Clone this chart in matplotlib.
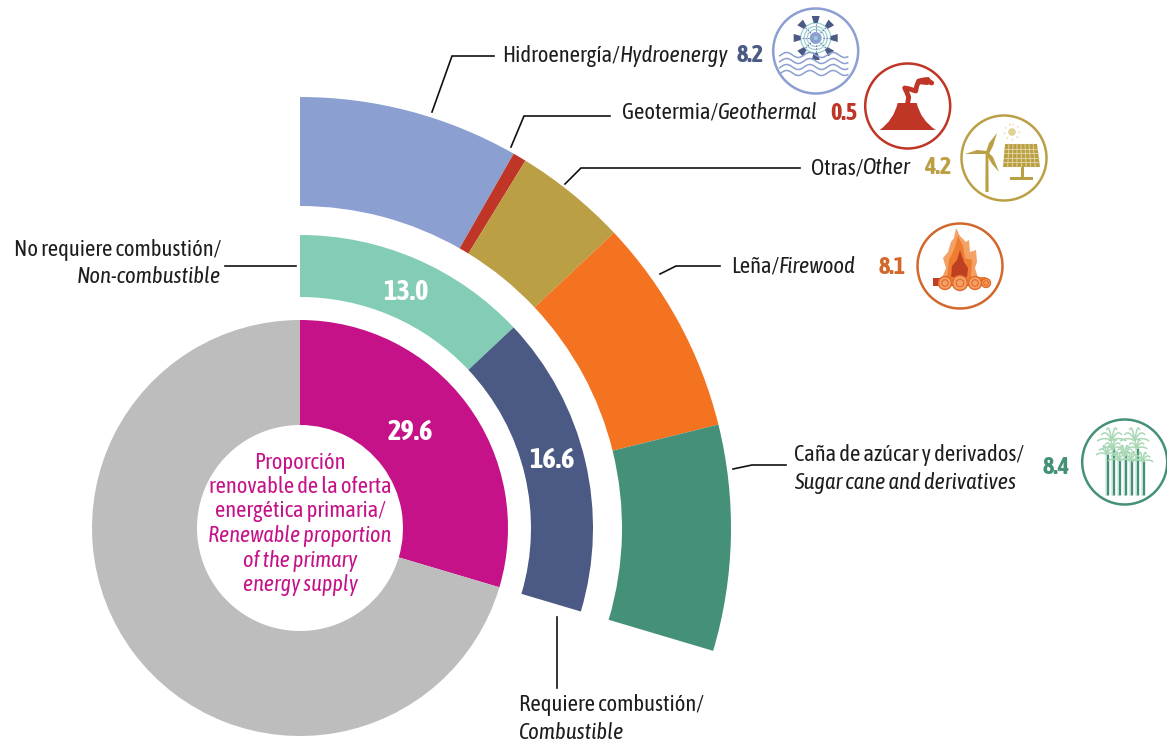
import numpy as np
import matplotlib
matplotlib.use('Agg')
import matplotlib.pyplot as plt
from matplotlib.patches import Circle, Polygon, Rectangle, PathPatch
from matplotlib.path import Path

share_labels = ['Renovable', 'Resto']
share_values = [29.6, 70.4]
group_values = [13.0, 16.6]
source_names = ['Hidroenergía', 'Geotermia', 'Otras', 'Leña', 'Caña']
source_values = [8.2, 0.5, 4.2, 8.1, 8.4]

share_colors = ['#C51288', '#BDBDBD']
group_colors = ['#83CDB7', '#4A5A85']
source_colors = ['#8C9FD1', '#BF3526', '#BA9F45', '#F37321', '#449079']

plt.rcParams['font.family'] = ['Asap Condensed', 'Liberation Sans', 'DejaVu Sans']

fig = plt.figure(figsize=(11.67, 7.44), dpi=100)
ax = fig.add_axes([0, 0, 1, 1])
cx, cy = 300, 528

# y axis is flipped, so counterclock + start -90 runs clockwise from the top on screen
def ring(values, radius, width, colors):
    ax.pie(values, colors=colors, radius=radius, center=(cx, cy), startangle=-90,
           counterclock=True, normalize=False, wedgeprops=dict(width=width, linewidth=0))

ring(np.array(share_values) / 100, 208, 105, share_colors)
ring(np.array(group_values) / 100, 293, 62, group_colors)
# outer ring adds to 29.4, drawn stretched over the same 29.6 angle
ring(np.array(source_values) / sum(source_values) * share_values[0] / 100, 431, 109, source_colors)

ax.set_xlim(0, 1167)
ax.set_ylim(744, 0)
ax.set_aspect('equal')
ax.axis('off')

TXT = '#1d1d1b'
FS = 16.3
renderer = fig.canvas.get_renderer()

def label(x, y, normal, italic):
    t = ax.text(x, y, normal, fontsize=FS, color=TXT, va='center', ha='left')
    bb = t.get_window_extent(renderer)
    ax.text(x + bb.width, y, italic, fontsize=FS, color=TXT, va='center', ha='left', style='italic')

def leader(xs, ys):
    ax.plot(xs, ys, color='#111111', lw=1.2, solid_joinstyle='miter')

leader([432, 452, 494], [112, 56, 56])
leader([511, 524, 610], [147, 116, 116])
leader([565, 581, 800], [184, 168, 168])
leader([660, 676, 720], [274, 266, 266])
leader([733, 752, 786], [469, 465, 465])
leader([225, 296], [266, 266])
leader([557, 557], [617, 688])

label(502, 56, 'Hidroenergía/', 'Hydroenergy')
label(622, 113, 'Geotermia/', 'Geothermal')
label(811, 168, 'Otras/', 'Other')
label(731, 267, 'Leña/', 'Firewood')
ax.text(794, 455, 'Caña de azúcar y derivados/', fontsize=FS, color=TXT, va='center')
ax.text(794, 483, 'Sugar cane and derivatives', fontsize=FS, color=TXT, va='center', style='italic')
ax.text(221, 250, 'No requiere combustión/', fontsize=FS, color=TXT, va='center', ha='right')
ax.text(221, 277, 'Non-combustible', fontsize=FS, color=TXT, va='center', ha='right', style='italic')
ax.text(519, 705, 'Requiere combustión/', fontsize=FS, color=TXT, va='center')
ax.text(519, 733, 'Combustible', fontsize=FS, color=TXT, va='center', style='italic')

value_pos = [(737, 56), (830, 114), (924, 168), (879, 267), (1043, 467)]
value_cols = ['#4A5A85', '#BF3526', '#BA9F45', '#D2682B', '#449079']
for v, p, c in zip(source_values, value_pos, value_cols):
    ax.text(p[0], p[1], f'{v:.1f}', fontsize=17.5, color=c, weight='bold', va='center')

ax.text(406, 293, f'{group_values[0]:.1f}', color='white', fontsize=20.5, weight='bold', ha='center', va='center')
ax.text(552, 461, f'{group_values[1]:.1f}', color='white', fontsize=20.5, weight='bold', ha='center', va='center')
ax.text(410, 432, f'{share_values[0]:.1f}', color='white', fontsize=20.5, weight='bold', ha='center', va='center')

centre_lines = ['Proporción', 'renovable de la oferta', 'energética primaria/']
centre_ital = ['Renewable proportion', 'of the primary', 'energy supply']
for s, y in zip(centre_lines, [463, 487, 511]):
    ax.text(300, y, s, color=share_colors[0], fontsize=16.2, ha='center', va='center')
for s, y in zip(centre_ital, [536, 561, 585]):
    ax.text(300, y, s, color=share_colors[0], fontsize=16, ha='center', va='center', style='italic')

# icons
def badge(x, y, col):
    ax.add_patch(Circle((x, y), 42.5, fc='white', ec=col, lw=1.8, zorder=3))

def poly(pts, col, z=4):
    ax.add_patch(Polygon(pts, closed=True, fc=col, ec='none', zorder=z))

# hydro wheel and waves
hx, hy = 815.7, 51
badge(hx, hy, '#8C9FD1')
navy = '#4A5A85'
wx, wy = hx, hy - 13
for r in [15, 11.5, 8.5]:
    ax.add_patch(Circle((wx, wy), r, fc='none', ec='#9CCFD3', lw=0.9, zorder=4))
for a in np.arange(0, 360, 45):
    ca, sa = np.cos(np.radians(a)), np.sin(np.radians(a))
    px, py = -sa, ca
    ax.plot([wx + 7 * ca, wx + 16 * ca], [wy + 7 * sa, wy + 16 * sa], color=navy, lw=0.8, ls=':', zorder=5)
    poly([(wx + 15 * ca + 2 * px, wy + 15 * sa + 2 * py), (wx + 15 * ca - 2 * px, wy + 15 * sa - 2 * py),
          (wx + 22 * ca - 4 * px, wy + 22 * sa - 4 * py), (wx + 22 * ca + 4 * px, wy + 22 * sa + 4 * py)], navy, 5)
ax.add_patch(Circle((wx, wy), 6, fc='#8C9FD1', ec='none', zorder=5))
ax.add_patch(Circle((wx, wy), 2, fc='#9CCFD3', ec='none', zorder=6))
wave_x = np.linspace(hx - 36, hx + 32, 120)
for dy in [4, 10, 16, 22]:
    ax.plot(wave_x, hy + dy + 2.5 * np.sin((wave_x - hx) / 3.7), color='#8C9FD1', lw=1.1, zorder=5)

# volcano
gx, gy = 907.7, 106
geo = '#BF3526'
badge(gx, gy, geo)
ax.add_patch(PathPatch(Path([(gx - 28, gy + 24), (gx - 14, gy + 14), (gx - 10, gy - 3), (gx + 9, gy - 3),
                             (gx + 13, gy + 14), (gx + 28, gy + 24), (gx - 28, gy + 24)],
                            [Path.MOVETO, Path.CURVE3, Path.CURVE3, Path.LINETO,
                             Path.CURVE3, Path.CURVE3, Path.CLOSEPOLY]), fc=geo, ec='none', zorder=4))
ax.add_patch(PathPatch(Path([(gx, gy - 3), (gx + 1, gy - 9), (gx - 1, gy - 14), (gx - 3, gy - 18), (gx + 2, gy - 17),
                             (gx + 8, gy - 15), (gx + 9, gy - 20), (gx + 11, gy - 25), (gx + 18, gy - 26), (gx + 24, gy - 23)],
                            [Path.MOVETO] + [Path.LINETO] * 9), fc='none', ec=geo, lw=3.5, joinstyle='round', capstyle='round', zorder=4))
poly([(gx + 9, gy - 22), (gx + 13, gy - 28), (gx + 21, gy - 29), (gx + 25, gy - 24), (gx + 20, gy - 21)], geo)

# wind turbine and solar panel
ox, oy = 1004, 158
gold = '#BA9F45'
badge(ox, oy, gold)
tx, ty = ox - 17, oy - 5
poly([(tx - 1.4, ty), (tx + 1.4, ty), (tx + 1.6, oy + 34), (tx - 1.6, oy + 34)], gold)
poly([(tx - 1, ty - 1), (tx + 2, ty - 10), (tx + 10, ty - 20), (tx + 6, ty - 7), (tx + 2, ty + 1)], gold)
poly([(tx, ty - 2), (tx - 10, ty - 3), (tx - 22, ty + 1), (tx - 10, ty + 1), (tx, ty + 1)], gold)
poly([(tx + 1, ty - 1), (tx + 6, ty + 4), (tx + 12, ty + 19), (tx + 5, ty + 11), (tx - 1, ty + 1)], gold)
ax.add_patch(Circle((ox + 8, oy - 26), 3.8, fc='#DFD293', ec='none', zorder=4))
ax.add_patch(Circle((ox + 8, oy - 26), 7.5, fc='none', ec='#EFE8C8', lw=1.5, ls=':', zorder=4))
poly([(ox + 1, oy - 14), (ox + 33, oy - 14), (ox + 36, oy + 9), (ox - 1, oy + 9)], gold)
for f in np.linspace(0.2, 0.8, 4):
    ax.plot([ox + 1 - 2 * f, ox + 33 + 3 * f], [oy - 14 + 23 * f] * 2, color='#E6DAAA', lw=0.6, zorder=5)
for f in np.linspace(0.125, 0.875, 7):
    ax.plot([ox + 1 + 32 * f, ox - 1 + 37 * f], [oy - 14, oy + 9], color='#E6DAAA', lw=0.6, zorder=5)
ax.add_patch(Rectangle((ox + 16.5, oy + 9), 3, 12, fc=gold, ec='none', zorder=4))
ax.add_patch(Rectangle((ox + 6, oy + 19), 23, 2.5, fc=gold, ec='none', zorder=4))

# fire with logs
fx, fy = 960, 266
badge(fx, fy, '#D2682B')
poly([(fx - 4, fy - 38), (fx, fy - 30), (fx + 6, fy - 24), (fx + 9, fy - 26), (fx + 10, fy - 14), (fx + 16, fy - 16), (fx + 17, fy - 4),
      (fx + 15, fy + 2), (fx + 18, fy + 12), (fx - 18, fy + 12), (fx - 14, fy + 2), (fx - 17, fy - 8), (fx - 12, fy - 14), (fx - 9, fy - 24), (fx - 6, fy - 28)], '#F3A165')
poly([(fx - 2, fy - 30), (fx + 3, fy - 20), (fx + 5, fy - 8), (fx + 12, fy - 6), (fx + 11, fy + 12), (fx - 13, fy + 12), (fx - 11, fy - 6), (fx - 6, fy - 16)], '#EE7D32', 5)
poly([(fx, fy - 16), (fx + 4, fy - 4), (fx + 8, fy + 2), (fx + 7, fy + 12), (fx - 9, fy + 12), (fx - 8, fy), (fx - 3, fy - 6)], '#BF3F22', 6)
ax.add_patch(Rectangle((fx - 27, fy + 12), 54, 8, fc='#BF3F22', ec='none', zorder=7))
ax.add_patch(Rectangle((fx - 12, fy + 11), 38, 4, fc='#EE7D32', ec='none', zorder=7))
for dx, r in [(-15, 6.5), (0, 7.5), (15, 6.5), (26, 4.5)]:
    ax.add_patch(Circle((fx + dx, fy + 17), r, fc='#F3A165', ec='#E2692A', lw=1, zorder=8))
    ax.add_patch(Circle((fx + dx, fy + 17), r * 0.5, fc='none', ec='#E2692A', lw=0.8, zorder=9))

# sugar cane
sx, sy = 1124.7, 462
badge(sx, sy, '#449079')
stalks = [-18, -12, -6, 0, 6, 12, 18]
tops = [-8, -14, -2, -8, -2, -14, -1]
leaf = '#A9D8B5'
def frond(x0, y0, size):
    for a, drop in [(-1, 0.55), (-0.7, 0.05), (-0.35, -0.35), (0.35, -0.35), (0.7, 0.05), (1, 0.55)]:
        t = np.linspace(0, 1, 12)
        ax.plot(x0 + a * size * t, y0 - 0.55 * size * np.sin(t * 2.2) * (1 - drop) + 0.45 * size * drop * t, color=leaf, lw=1.1, zorder=6)
for d, tp in zip(stalks, tops):
    ax.plot([sx + d, sx + d], [sy + tp, sy + 33], color='#449079', lw=2.4, zorder=4, solid_capstyle='butt')
    ax.plot([sx + d - 0.3, sx + d - 0.3], [sy + tp, sy + 33], color='#BFE3D7', lw=0.7, zorder=5)
    frond(sx + d, sy + tp, 10)
frond(sx - 13, sy - 22, 14)
frond(sx + 10, sy - 22, 14)

fig.savefig('out.png', dpi=100)
